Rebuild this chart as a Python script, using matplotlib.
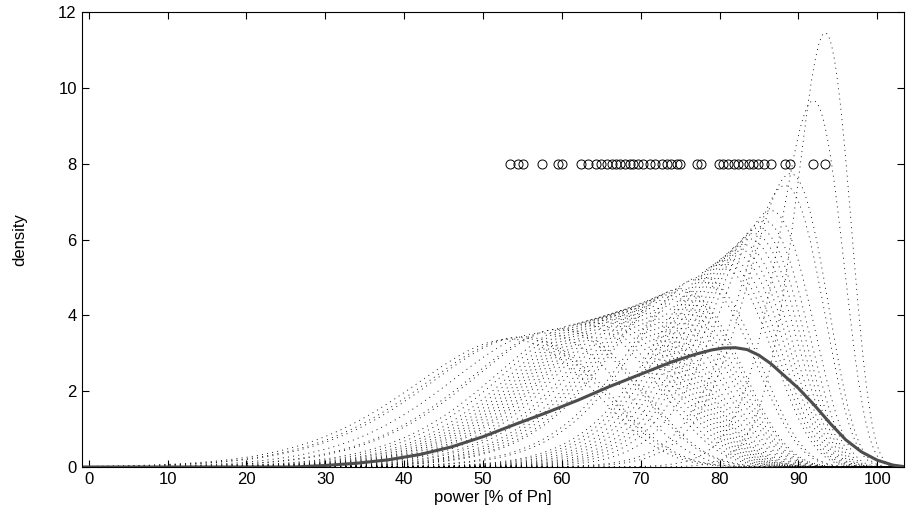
import numpy as np
import matplotlib
matplotlib.use('Agg')
import matplotlib.pyplot as plt

plt.rcParams['font.family'] = ['Liberation Sans', 'DejaVu Sans']

# observed power values (% of Pn), read from the circle row
power = np.array([53.4, 54.5, 55.1, 57.5, 59.5, 60.0,
                  62.4, 63.3, 64.3, 65.0, 65.7, 66.3, 66.9, 67.4, 68.0, 68.6,
                  69.0, 69.7, 70.3, 71.2, 71.8, 72.7, 73.3, 73.9, 74.6, 75.0,
                  77.1, 77.7,
                  79.9, 80.5, 81.1, 81.8, 82.4, 83.0, 83.7, 84.3, 84.9, 85.6,
                  86.5, 88.3, 89.0, 91.9, 93.4])
marker_level = 8.0

# overall density (thick grey curve)
fit_x = [-0.9, 26, 30, 34, 38, 42, 46, 50, 54, 58, 62, 66, 70, 74, 77,
         79, 80.5, 82, 83.5, 85, 86.5, 88, 90, 92, 94, 96, 98, 100, 102, 103.4]
fit_density = [0, 0, 0.04, 0.1, 0.19, 0.33, 0.53, 0.8, 1.12, 1.43, 1.76,
               2.12, 2.45, 2.78, 2.98, 3.09, 3.14, 3.15, 3.1, 2.95, 2.73,
               2.45, 2.08, 1.64, 1.16, 0.72, 0.4, 0.18, 0.05, 0.01]

# kernel settings: skewed (log-normal in distance to an upper bound),
# width shrinking towards rated power
upper = 110.4
width_scale, width_top = 1.75, 97.2
lo, hi = -0.9, 103.4

x = np.linspace(lo, hi, 900)
d = upper - x


def kernel(p):
    di = upper - p
    s = width_scale * np.sqrt(width_top - p) / di
    mu = np.log(di) + s**2
    z = (np.log(d) - mu) / s
    return np.exp(-0.5 * z**2) / (np.sqrt(2 * np.pi) * s * d) * 100


fig = plt.figure(figsize=(9.09, 5.19), dpi=100)
ax = fig.add_axes([0.0899, 0.1002, 0.9046, 0.8758])

for p in power:
    ax.plot(x, kernel(p), color='k', lw=0.6, linestyle=(0, (1.2, 5)))
ax.plot(fit_x, fit_density, color='#4d4d4d', lw=2.2, solid_joinstyle='round')
ax.plot(power, np.full(len(power), marker_level), 'o', mfc='none', mec='k',
        ms=6.5, mew=0.7, ls='none')

ax.set_xlim(lo, hi)
ax.set_ylim(0, 12)
ax.set_xticks(np.arange(0, 101, 10))
ax.set_yticks(np.arange(0, 13, 2))
ax.tick_params(direction='in', top=True, right=True, length=5, width=0.8,
               labelsize=12)
for sp in ax.spines.values():
    sp.set_linewidth(0.8)
ax.set_xlabel('power [% of Pn]', fontsize=12, labelpad=2)
ax.set_ylabel('density', fontsize=12, labelpad=22)

fig.savefig('out.png', dpi=100)
